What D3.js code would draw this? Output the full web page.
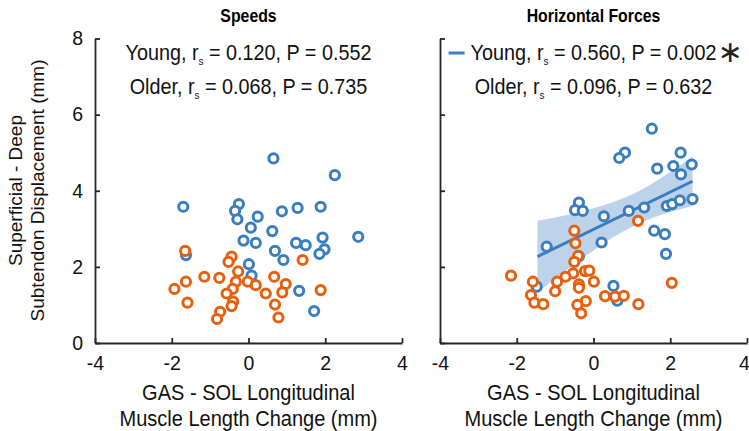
<!DOCTYPE html>
<html><head><meta charset="utf-8">
<script src="https://cdn.jsdelivr.net/npm/d3@7"></script>
<style>body{margin:0;background:#fff}svg{display:block}</style>
</head><body>
<svg id="chart" width="749" height="431"></svg>
<script>
// ---- data ----
const xTicks = [-4, -2, 0, 2, 4];
const yTicks = [0, 2, 4, 6, 8];
const panelTitles = ["Speeds", "Horizontal Forces"];
const xLabelLines = ["GAS - SOL Longitudinal", "Muscle Length Change (mm)"];
const yLabelLines = ["Superficial - Deep", "Subtendon Displacement (mm)"];

const speedsYoungX = [-1.70,-1.63,0.65,2.25,-0.25,-0.35,-0.29,0.24,0.06,0.87,1.28,1.88,0.62,-0.13,0.19,0.69,1.24,1.49,1.93,2.86,1.98,1.85,0.91,0.01,0.08,1.32,1.71];
const speedsYoungY = [3.58,2.31,4.85,4.41,3.65,3.47,3.25,3.32,3.03,3.46,3.55,3.58,2.94,2.69,2.63,2.42,2.63,2.57,2.77,2.79,2.46,2.34,2.18,2.07,1.77,1.37,0.84];
const speedsOlderX = [-1.65,-0.44,-0.52,1.41,-0.27,-1.15,-0.76,0.67,-1.63,-1.93,-0.33,-0.02,0.19,0.97,-0.41,-0.57,0.45,0.88,1.88,-1.59,-0.40,-0.44,0.69,-0.74,-0.82,0.78];
const speedsOlderY = [2.42,2.27,2.13,2.18,1.88,1.74,1.71,1.74,1.61,1.42,1.61,1.61,1.52,1.55,1.42,1.30,1.30,1.33,1.39,1.06,1.09,0.97,1.01,0.82,0.63,0.67];

const forcesYoungX = [1.52,0.82,0.67,2.27,1.66,2.08,2.56,2.28,-0.38,-0.48,-0.28,0.27,0.92,1.32,1.91,2.05,2.25,2.58,1.58,1.86,-1.22,0.21,1.89,-1.48,0.52,0.62,-0.38];
const forcesYoungY = [5.63,5.00,4.86,5.00,4.58,4.65,4.69,4.43,3.69,3.49,3.47,3.33,3.47,3.56,3.60,3.65,3.75,3.78,2.95,2.86,2.53,2.64,2.34,1.48,1.50,1.11,2.28];
const forcesOlderX = [1.16,-0.50,-0.47,-0.40,-0.50,-2.15,-0.22,-0.11,-0.53,-0.73,-0.95,-1.58,0.01,-0.38,-0.38,2.04,-1.00,-1.63,0.30,0.56,0.79,-1.54,-1.31,-0.20,-0.42,1.17,-0.32];
const forcesOlderY = [3.21,2.95,2.62,2.29,2.13,1.77,1.89,1.90,1.83,1.74,1.61,1.61,1.61,1.54,1.45,1.58,1.36,1.26,1.23,1.22,1.24,1.06,1.02,1.10,1.00,1.02,0.78];

const fitX = [-1.46, 2.58];
const fitY = [2.27, 4.25];
const bandX  = [-1.46,-1.0,-0.5,0.0,0.5,1.0,1.5,2.0,2.58];
const bandLo = [1.33,1.69,2.07,2.43,2.77,3.05,3.27,3.44,3.60];
const bandHi = [3.21,3.30,3.41,3.54,3.70,3.90,4.17,4.49,4.90];

const statsSpeeds = [["Young", "0.120", "0.552", false], ["Older", "0.068", "0.735", false]];
const statsForces = [["Young", "0.560", "0.002", true], ["Older", "0.096", "0.632", false]];

// ---- styles ----
const BLUE = "#3a7ebf", ORANGE = "#e8600f", BAND = "#bcd3ea", AX = "#262626";
const FONT = "'Liberation Sans', Arial, Helvetica, sans-serif";
const SX = 0.9;
const svg = d3.select("#chart").style("font-family", FONT);

const yScale = d3.scaleLinear().domain([0, 8]).range([343, 38.5]);

function panel(x0, x1, title, youngX, youngY, olderX, olderY, stats, withFit, showYLabels) {
  const xs = d3.scaleLinear().domain([-4, 4]).range([x0, x1]);
  const g = svg.append("g");
  const cx = (x0 + x1) / 2;

  if (withFit) {
    const bd = bandX.map((d, i) => ({x: d, lo: bandLo[i], hi: bandHi[i]}));
    g.append("path").datum(bd)
      .attr("d", d3.area().x(d => xs(d.x)).y0(d => yScale(d.lo)).y1(d => yScale(d.hi)).curve(d3.curveMonotoneX))
      .attr("fill", BAND).attr("stroke", "none");
    g.append("path").datum(fitX.map((d, i) => [d, fitY[i]]))
      .attr("d", d3.line().x(d => xs(d[0])).y(d => yScale(d[1])))
      .attr("stroke", BLUE).attr("stroke-width", 3).attr("fill", "none");
  }

  const drawPts = (X, Y, col) => g.append("g").selectAll("circle").data(X.map((d, i) => [d, Y[i]]))
    .join("circle").attr("cx", d => xs(d[0])).attr("cy", d => yScale(d[1])).attr("r", 4.6)
    .attr("fill", "#fff").attr("stroke", col).attr("stroke-width", 3);
  drawPts(youngX, youngY, BLUE);
  drawPts(olderX, olderY, ORANGE);

  // axes
  const xa = g.append("g").attr("transform", `translate(0,343)`)
    .call(d3.axisBottom(xs).tickValues(xTicks).tickSizeInner(-5).tickSizeOuter(0).tickPadding(13.5).tickFormat(d => String(d)));
  const ya = g.append("g").attr("transform", `translate(${x0},0)`)
    .call(d3.axisLeft(yScale).tickValues(yTicks).tickSizeInner(-5).tickSizeOuter(0).tickPadding(12)
      .tickFormat(showYLabels ? (d => String(d)) : () => ""));
  [xa, ya].forEach(a => {
    a.select(".domain").attr("stroke", AX).attr("stroke-width", 1.8);
    a.selectAll(".tick line").attr("stroke", AX).attr("stroke-width", 1.8);
    a.selectAll(".tick text").attr("fill", "#111").style("font-size", "19.5px").style("font-family", FONT);
  });
  xa.selectAll(".tick text").filter(d => d === 4 && x1 > 740).attr("dx", -3);

  // title
  g.append("text").attr("transform", `translate(${cx},22) scale(0.88,1)`).attr("text-anchor", "middle")
    .style("font-weight", "bold").style("font-size", "18px").attr("fill", "#000").text(title);

  // stats text
  stats.forEach((s, i) => {
    const y = 60 + i * 34;
    const t = g.append("text").attr("transform", `translate(${cx},${y}) scale(${SX},1)`).attr("text-anchor", "middle")
      .style("font-size", "22px").attr("fill", "#111");
    t.append("tspan").text(`${s[0]}, r`);
    t.append("tspan").text("s").style("font-size", "11px").attr("dy", 5);
    t.append("tspan").text(` = ${s[1]}, P = ${s[2]}`).attr("dy", -5);
    if (s[3]) {
      const bb = t.node().getBBox();
      const left = cx + bb.x * SX, right = cx + (bb.x + bb.width) * SX;
      g.append("line").attr("x1", left - 22).attr("x2", left - 6).attr("y1", 53).attr("y2", 53)
        .attr("stroke", BLUE).attr("stroke-width", 3);
      g.append("text").attr("x", right + 1).attr("y", 62).style("font-size", "30px")
        .style("font-family", "'DejaVu Sans', sans-serif").attr("fill", "#222").text("\u2217");
    }
  });

  // x label
  xLabelLines.forEach((s, i) =>
    g.append("text").attr("transform", `translate(${cx},${400 + i * 26}) scale(0.91,1)`).attr("text-anchor", "middle")
      .style("font-size", "22px").attr("fill", "#111").text(s));
}

panel(95, 402, panelTitles[0], speedsYoungX, speedsYoungY, speedsOlderX, speedsOlderY, statsSpeeds, false, true);
panel(440, 747, panelTitles[1], forcesYoungX, forcesYoungY, forcesOlderX, forcesOlderY, statsForces, true, false);

// y label
yLabelLines.forEach((s, i) =>
  svg.append("text").attr("transform", `translate(${22 + i * 22},190.5) rotate(-90)`)
    .attr("text-anchor", "middle").style("font-size", "19px").attr("fill", "#111").text(s));
</script>
</body></html>
